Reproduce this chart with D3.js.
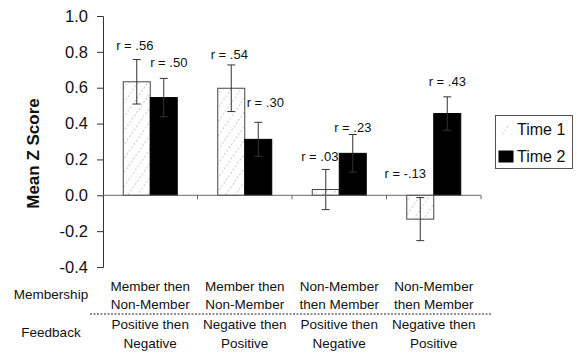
<!DOCTYPE html>
<html>
<head>
<meta charset="utf-8">
<script src="https://cdn.jsdelivr.net/npm/d3@7"></script>
<style>
  html, body { margin: 0; padding: 0; background: #fff; }
  svg { display: block; font-family: "Liberation Sans", Arial, sans-serif; }
</style>
</head>
<body>
<svg id="chart" width="577" height="355"></svg>
<script>
// Conditions (membership / feedback order)
const membership = [["Member then", "Non-Member"], ["Member then", "Non-Member"], ["Non-Member", "then Member"], ["Non-Member", "then Member"]];
const feedback = [["Positive then", "Negative"], ["Negative then", "Positive"], ["Positive then", "Negative"], ["Negative then", "Positive"]];
const seriesNames = ["Time 1", "Time 2"];

// Mean Z scores, standard errors and correlations per condition
const time1 = [0.633, 0.597, 0.032, -0.133];
const time2 = [0.545, 0.312, 0.234, 0.456];
const err1 = [0.124, 0.130, 0.112, 0.120];
const err2 = [0.107, 0.095, 0.105, 0.093];
const r1 = ["r = .56", "r = .54", "r = .03", "r = -.13"];
const r2 = ["r = .50", "r = .30", "r = .23", "r = .43"];
const yTicks = [-0.4, -0.2, 0.0, 0.2, 0.4, 0.6, 0.8, 1.0];

const svg = d3.select("#chart");
const x0 = 103, x1 = 481, yTop = 16, yBot = 267;

const y = d3.scaleLinear().domain([-0.4, 1.0]).range([yBot, yTop]);
const x = d3.scaleBand().domain(d3.range(4)).range([x0, x1]).padding(0);
const xs = d3.scaleBand().domain([0, 1]).range([0, 54]);
const barOffset = (x.bandwidth() - 54) / 2;

// Hatch for Time 1
const defs = svg.append("defs");
const pat = defs.append("pattern").attr("id", "hatch").attr("patternUnits", "userSpaceOnUse")
  .attr("width", 8).attr("height", 8).attr("patternTransform", "rotate(35)");
pat.append("rect").attr("width", 8).attr("height", 8).attr("fill", "#fff");
pat.append("line").attr("x1", 0).attr("y1", 0).attr("x2", 0).attr("y2", 8)
  .attr("stroke", "#8a8a8a").attr("stroke-width", 0.9).attr("stroke-dasharray", "2,2");

// Y axis
const yAxis = d3.axisLeft(y).tickValues(yTicks).tickSize(6).tickFormat(d3.format(".1f"));
const ya = svg.append("g").attr("transform", `translate(${x0},0)`).call(yAxis);
ya.select(".domain").attr("stroke", "#333");
ya.selectAll(".tick line").attr("stroke", "#333");
ya.selectAll(".tick text").attr("font-size", 16.5).attr("fill", "#111").attr("x", -15)
  .text(d => d3.format(".1f")(d).replace("−", "-"));

svg.append("text").attr("transform", `translate(39,${(yTop + yBot) / 2 + 12}) rotate(-90)`)
  .attr("text-anchor", "middle").attr("font-size", 17).attr("font-weight", "bold").attr("fill", "#111")
  .text("Mean Z Score");

const groups = d3.range(4);
const g = svg.append("g");

function drawBar(i, s, v, e, lab, dx, dy) {
  const bx = x(i) + barOffset + xs(s);
  const w = xs.bandwidth();
  g.append("rect").attr("x", bx).attr("y", y(Math.max(0, v))).attr("width", w)
    .attr("height", Math.abs(y(v) - y(0)))
    .attr("fill", s === 0 ? "url(#hatch)" : "#000")
    .attr("stroke", s === 0 ? "#444" : "#000").attr("stroke-width", 1);
  const cx = bx + w / 2;
  const lo = v - e, hi = v + e;
  const eb = g.append("g").attr("stroke", "#333").attr("stroke-width", 1);
  eb.append("line").attr("x1", cx).attr("x2", cx).attr("y1", y(lo)).attr("y2", y(hi));
  eb.append("line").attr("x1", cx - 4).attr("x2", cx + 4).attr("y1", y(hi)).attr("y2", y(hi));
  eb.append("line").attr("x1", cx - 4).attr("x2", cx + 4).attr("y1", y(lo)).attr("y2", y(lo));
  g.append("text").attr("x", cx + dx).attr("y", y(hi) + dy).attr("text-anchor", "middle")
    .attr("font-size", 13).attr("fill", "#111").text(lab);
}

// label offsets relative to the top cap
const off1 = [[-2, -10], [-2, -6], [-6, -8], [-15, 27]];
const off2 = [[5, -11], [7, -15], [0, -3], [0, -11]];
groups.forEach(i => {
  drawBar(i, 0, time1[i], err1[i], r1[i], off1[i][0], off1[i][1]);
  drawBar(i, 1, time2[i], err2[i], r2[i], off2[i][0], off2[i][1]);
});
// r label for the negative Time 1 bar sits above the zero line
g.selectAll("text").filter(function () { return d3.select(this).text() === r1[3]; })
  .attr("y", 178);

// X axis at zero with group separators
const xa = svg.append("g").attr("stroke", "#666").attr("stroke-width", 1);
xa.append("line").attr("x1", x0).attr("x2", x1).attr("y1", y(0)).attr("y2", y(0));
groups.forEach(i => {
  const tx = x(i) + x.bandwidth();
  xa.append("line").attr("x1", tx).attr("x2", tx).attr("y1", y(0)).attr("y2", y(0) + 4);
});

// Category labels
const lab = svg.append("g").attr("font-size", 13.5).attr("fill", "#111").attr("text-anchor", "middle");
groups.forEach(i => {
  const cx = x(i) + x.bandwidth() / 2;
  lab.append("text").attr("x", cx).attr("y", 291).text(membership[i][0]);
  lab.append("text").attr("x", cx).attr("y", 309).text(membership[i][1]);
  lab.append("text").attr("x", cx).attr("y", 329).text(feedback[i][0]);
  lab.append("text").attr("x", cx).attr("y", 348).text(feedback[i][1]);
});
lab.append("text").attr("x", 51).attr("y", 299).text("Membership");
lab.append("text").attr("x", 51).attr("y", 337).text("Feedback");
svg.append("line").attr("x1", 90).attr("x2", 492).attr("y1", 314).attr("y2", 314)
  .attr("stroke", "#222").attr("stroke-width", 1).attr("stroke-dasharray", "2,1.5");

// Legend
const lg = svg.append("g");
lg.append("rect").attr("x", 495.5).attr("y", 115.5).attr("width", 77).attr("height", 53)
  .attr("fill", "#fff").attr("stroke", "#555");
seriesNames.forEach((n, k) => {
  const yy = 124 + k * 27;
  lg.append("rect").attr("x", 499).attr("y", yy).attr("width", 14).attr("height", 11)
    .attr("fill", k === 0 ? "url(#hatch)" : "#000").attr("stroke", k === 0 ? "none" : "#000");
  lg.append("text").attr("x", 517).attr("y", yy + 11).attr("font-size", 16).attr("fill", "#111").text(n);
});
</script>
</body>
</html>
